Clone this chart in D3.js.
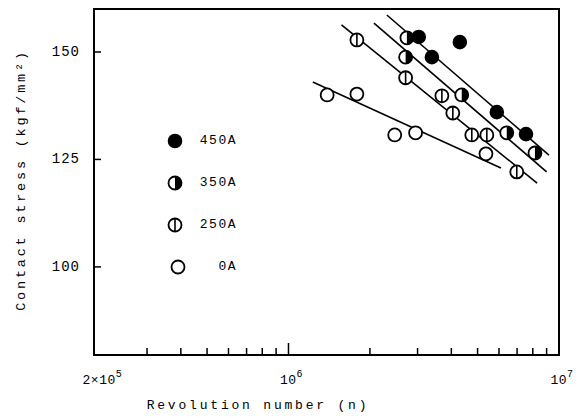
<!DOCTYPE html>
<html>
<head>
<meta charset="utf-8">
<script src="https://cdn.jsdelivr.net/npm/d3@7"></script>
<style>
  body { margin: 0; background: #fff; }
  text { font-family: "Liberation Mono", "DejaVu Sans Mono", monospace; fill: #000; }
</style>
</head>
<body>
<div id="chart"></div>
<script>
// series (revolution number, contact stress kgf/mm2)
var seriesNames = ['450A', '350A', '250A', '0A'];
var n450 = [3.03e6, 3.39e6, 4.30e6, 5.89e6, 7.55e6];
var s450 = [153.5, 148.8, 152.3, 136.0, 130.9];
var n350 = [2.74e6, 2.71e6, 4.37e6, 6.41e6, 8.15e6];
var s350 = [153.3, 148.8, 140.0, 131.2, 126.5];
var n250 = [1.79e6, 2.71e6, 3.69e6, 4.05e6, 4.76e6, 5.41e6, 6.98e6];
var s250 = [152.8, 144.0, 139.8, 135.8, 130.7, 130.7, 122.1];
var n0 = [1.39e6, 1.79e6, 2.47e6, 2.95e6, 5.37e6];
var s0 = [140.0, 140.2, 130.7, 131.2, 126.3];
// fitted lines, end points
var fitN = [[2.31e6, 9.18e6], [2.07e6, 9.0e6], [1.57e6, 8.3e6], [1.23e6, 6.10e6]];
var fitS = [[158.6, 126.0], [156.7, 122.1], [156.3, 119.5], [143.0, 123.0]];
var yTicks = [100, 125, 150];
var xMinor = [3e5, 4e5, 5e5, 6e5, 7e5, 8e5, 9e5, 2e6, 3e6, 4e6, 5e6, 6e6, 7e6, 8e6, 9e6];
var xLabels = [[2e5, '2\u00d710', '5'], [1e6, '10', '6'], [1e7, '10', '7']];

(function () {
  var width = 579, height = 418;
  var pl = 94, pr = 559, pt = 9, pb = 355;
  var R = 6.5;

  var svg = d3.select('#chart').append('svg')
    .attr('width', width).attr('height', height);

  var x = d3.scaleLog().domain([1.91e5, 1e7]).range([pl, pr]);
  var y = d3.scaleLinear().domain([79.5, 160]).range([pb, pt]);

  // frame
  svg.append('rect')
    .attr('x', pl).attr('y', pt)
    .attr('width', pr - pl).attr('height', pb - pt)
    .attr('fill', 'none').attr('stroke', '#000').attr('stroke-width', 2);

  // x ticks (inward)
  svg.selectAll('.xminor').data(xMinor).enter().append('line')
    .attr('x1', function (d) { return x(d); }).attr('x2', function (d) { return x(d); })
    .attr('y1', pb).attr('y2', pb - 7)
    .attr('stroke', '#000').attr('stroke-width', 1.5);
  svg.append('line')
    .attr('x1', x(1e6)).attr('x2', x(1e6))
    .attr('y1', pb).attr('y2', pb - 12)
    .attr('stroke', '#000').attr('stroke-width', 1.5);

  var xl = svg.selectAll('.xlab').data(xLabels).enter().append('text')
    .attr('x', function (d) { return x(d[0]) + 3; })
    .attr('y', 384)
    .attr('text-anchor', 'middle')
    .attr('font-size', 13).attr('letter-spacing', 0.5);
  xl.append('tspan').text(function (d) { return d[1]; });
  xl.append('tspan').attr('dy', -7).attr('font-size', 10).text(function (d) { return d[2]; });

  // y ticks
  svg.selectAll('.ytick').data(yTicks).enter().append('line')
    .attr('x1', pl).attr('x2', pl + 7)
    .attr('y1', function (d) { return y(d); }).attr('y2', function (d) { return y(d); })
    .attr('stroke', '#000').attr('stroke-width', 1.5);
  svg.selectAll('.ylab').data(yTicks).enter().append('text')
    .attr('x', 80).attr('y', function (d) { return y(d); })
    .attr('text-anchor', 'end').attr('dominant-baseline', 'middle')
    .attr('font-size', 14).attr('letter-spacing', 1)
    .text(function (d) { return d; });

  // axis titles
  svg.append('text')
    .attr('x', 258).attr('y', 409)
    .attr('text-anchor', 'middle')
    .attr('font-size', 13).attr('letter-spacing', 2.8)
    .text('Revolution number (n)');
  svg.append('text')
    .attr('transform', 'translate(25,180) rotate(-90)')
    .attr('text-anchor', 'middle')
    .attr('font-size', 13.5).attr('letter-spacing', 2.8)
    .text('Contact stress (kgf/mm\u00b2)');

  // fitted lines
  for (var i = 0; i < fitN.length; i++) {
    svg.append('line')
      .attr('x1', x(fitN[i][0])).attr('y1', y(fitS[i][0]))
      .attr('x2', x(fitN[i][1])).attr('y2', y(fitS[i][1]))
      .attr('stroke', '#000').attr('stroke-width', 1.6);
  }

  function marker(g, kind, cx, cy) {
    if (kind === '450A') {
      g.append('circle').attr('cx', cx).attr('cy', cy).attr('r', R)
        .attr('fill', '#000').attr('stroke', '#000').attr('stroke-width', 1.6);
      return;
    }
    g.append('circle').attr('cx', cx).attr('cy', cy).attr('r', R)
      .attr('fill', '#fff').attr('stroke', '#000').attr('stroke-width', 1.8);
    if (kind === '350A') {
      g.append('path')
        .attr('d', 'M' + cx + ',' + (cy - R) + ' A' + R + ',' + R + ' 0 0,1 ' + cx + ',' + (cy + R) + ' Z')
        .attr('fill', '#000');
    }
    if (kind === '250A') {
      g.append('line')
        .attr('x1', cx).attr('x2', cx).attr('y1', cy - R).attr('y2', cy + R)
        .attr('stroke', '#000').attr('stroke-width', 1.6);
    }
  }

  var allN = [n450, n350, n250, n0];
  var allS = [s450, s350, s250, s0];
  var pts = svg.append('g');
  for (var k = allN.length - 1; k >= 0; k--) {
    for (var j = 0; j < allN[k].length; j++) {
      marker(pts, seriesNames[k], x(allN[k][j]), y(allS[k][j]));
    }
  }

  // legend
  var legY = [141, 183, 225, 267];
  var leg = svg.append('g');
  for (var m = 0; m < seriesNames.length; m++) {
    marker(leg, seriesNames[m], m === 3 ? 178 : 175, legY[m]);
    leg.append('text')
      .attr('x', 237).attr('y', legY[m])
      .attr('text-anchor', 'end').attr('dominant-baseline', 'middle')
      .attr('font-size', 13).attr('letter-spacing', 1.5)
      .text(seriesNames[m]);
  }
})();
</script>
</body>
</html>
